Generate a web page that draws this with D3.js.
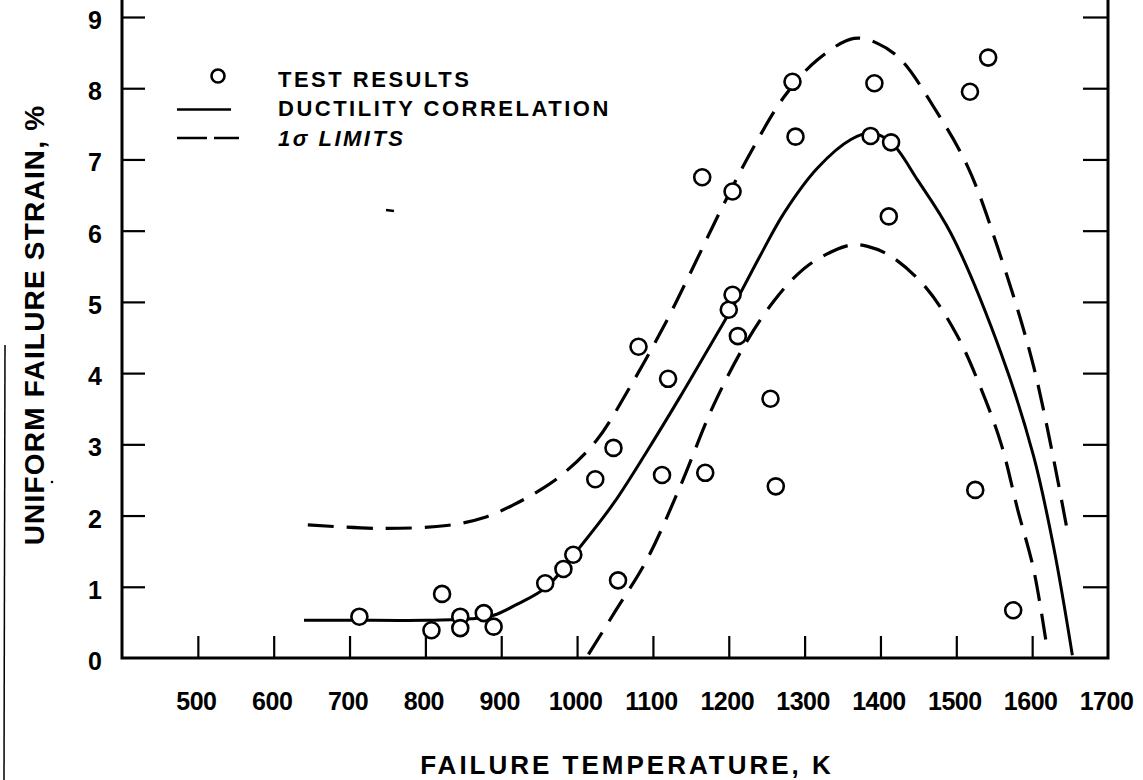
<!DOCTYPE html>
<html>
<head>
<meta charset="utf-8">
<script src="https://cdn.jsdelivr.net/npm/d3@7"></script>
<style>
  html, body { margin: 0; padding: 0; background: #fff; }
  svg { display: block; }
  text { font-family: "Liberation Sans", Arial, Helvetica, sans-serif; fill: #000; }
</style>
</head>
<body>
<svg id="chart" width="1143" height="780"></svg>
<script>
// ---- Data ----
const xTicks = [500, 600, 700, 800, 900, 1000, 1100, 1200, 1300, 1400, 1500, 1600, 1700];
const yTicks = [0, 1, 2, 3, 4, 5, 6, 7, 8, 9];

// Test results: failure temperature (K)
const testTemp = [713, 808, 822, 846, 846, 877, 890, 958, 982, 995, 1024, 1048, 1054,
                  1081, 1112, 1120, 1165, 1169, 1200, 1205, 1205, 1212, 1255, 1262,
                  1284, 1288, 1387, 1392, 1411, 1414, 1518, 1525, 1542, 1575];
// Test results: uniform failure strain (%)
const testStrain = [0.58, 0.39, 0.90, 0.58, 0.42, 0.63, 0.44, 1.05, 1.25, 1.45, 2.51, 2.95, 1.09,
                    4.37, 2.57, 3.92, 6.75, 2.60, 4.89, 5.10, 6.55, 4.52, 3.64, 2.41,
                    8.09, 7.32, 7.33, 8.07, 6.20, 7.24, 7.95, 2.36, 8.43, 0.67];

// Ductility correlation (solid)
const corrTemp   = [640, 700, 800, 860, 890, 920, 960, 1004, 1048, 1092, 1136, 1180, 1210, 1240, 1273, 1317, 1361, 1387, 1414, 1449, 1493, 1559, 1602, 1629, 1653];
const corrStrain = [0.53, 0.53, 0.53, 0.55, 0.60, 0.75, 1.00, 1.56, 2.17, 2.90, 3.67, 4.47, 5.02, 5.62, 6.25, 6.88, 7.28, 7.37, 7.24, 6.71, 5.96, 4.28, 2.83, 1.52, 0.04];

// 1-sigma limits, upper (dashed)
const upperTemp   = [645, 740, 828, 880, 916, 950, 982, 1026, 1070, 1114, 1150, 1190, 1229, 1273, 1317, 1365, 1396, 1427, 1470, 1515, 1554, 1602, 1647];
const upperStrain = [1.87, 1.82, 1.86, 1.98, 2.15, 2.35, 2.59, 3.06, 3.81, 4.65, 5.42, 6.30, 7.10, 7.88, 8.40, 8.70, 8.63, 8.40, 7.74, 6.90, 5.78, 4.09, 1.75];

// 1-sigma limits, lower (dashed)
const lowerTemp   = [1015, 1050, 1092, 1136, 1180, 1224, 1260, 1290, 1317, 1361, 1383, 1414, 1460, 1500, 1530, 1559, 1581, 1602, 1620];
const lowerStrain = [0.05, 0.65, 1.38, 2.41, 3.55, 4.45, 5.02, 5.38, 5.60, 5.80, 5.78, 5.64, 5.20, 4.55, 3.85, 3.01, 2.08, 1.24, 0.11];

const legendLabels = ["TEST RESULTS", "DUCTILITY CORRELATION", "1σ LIMITS"];
const xTitle = "FAILURE TEMPERATURE, K";
const yTitle = "UNIFORM FAILURE STRAIN, %";

// ---- Drawing ----
const svg = d3.select("#chart");
const left = 122, right = 1108, bottom = 658, yTop9 = 17;

const x = d3.scaleLinear().domain([400, 1700]).range([left, right]);
const y = d3.scaleLinear().domain([0, 9]).range([bottom, yTop9]);

const ink = "#000";

// scan artifact line on the far left edge, plus specks
svg.append("line").attr("x1", 5).attr("y1", 345).attr("x2", 4).attr("y2", 780)
  .attr("stroke", ink).attr("stroke-width", 1.5);
svg.append("line").attr("x1", 386).attr("x2", 394).attr("y1", 210).attr("y2", 211)
  .attr("stroke", ink).attr("stroke-width", 2.5);
svg.append("circle").attr("cx", 52).attr("cy", 482).attr("r", 1.3).attr("fill", ink);

// Frame: left axis, bottom axis, right axis (open at top)
svg.append("path")
  .attr("d", `M${left},0 L${left},${bottom} L${right},${bottom} L${right},0`)
  .attr("fill", "none").attr("stroke", ink).attr("stroke-width", 3);

// Left y-axis ticks
const yAxisL = d3.axisRight(y).tickValues(yTicks.filter(d => d > 0)).tickSize(23).tickFormat("");
const gyl = svg.append("g").attr("transform", `translate(${left},0)`).call(yAxisL);
gyl.select(".domain").remove();
gyl.selectAll(".tick line").attr("stroke", ink).attr("stroke-width", 2.2);

// Right y-axis ticks (pointing inward)
const yAxisR = d3.axisLeft(y).tickValues(yTicks.filter(d => d > 0)).tickSize(25).tickFormat("");
const gyr = svg.append("g").attr("transform", `translate(${right},0)`).call(yAxisR);
gyr.select(".domain").remove();
gyr.selectAll(".tick line").attr("stroke", ink).attr("stroke-width", 2.2);

// y tick labels
svg.append("g").selectAll("text").data(yTicks).join("text")
  .attr("x", 102).attr("y", d => y(d) + 3)
  .attr("text-anchor", "end").attr("dominant-baseline", "central")
  .attr("font-size", 25).attr("font-weight", "bold")
  .text(d => d);

// Bottom x-axis ticks (pointing up)
const xAxis = d3.axisTop(x).tickValues(xTicks.filter(d => d < 1700)).tickSize(22).tickFormat("");
const gx = svg.append("g").attr("transform", `translate(0,${bottom})`).call(xAxis);
gx.select(".domain").remove();
gx.selectAll(".tick line").attr("stroke", ink).attr("stroke-width", 2.2);

// x tick labels
svg.append("g").selectAll("text").data(xTicks).join("text")
  .attr("x", d => x(d) - 1.5).attr("y", 710)
  .attr("text-anchor", "middle")
  .attr("font-size", 25).attr("font-weight", "bold").attr("letter-spacing", -0.5)
  .text(d => d);

// Axis titles
svg.append("text").attr("x", 627).attr("y", 774)
  .attr("text-anchor", "middle").attr("font-size", 26).attr("font-weight", "bold")
  .attr("letter-spacing", 3)
  .text(xTitle);

svg.append("text")
  .attr("transform", `translate(44,325) rotate(-90)`)
  .attr("text-anchor", "middle").attr("font-size", 28).attr("font-weight", "bold")
  .attr("letter-spacing", 1.2)
  .text(yTitle);

// Curves
const line = d3.line().x(d => x(d[0])).y(d => y(d[1])).curve(d3.curveCatmullRom.alpha(0.5));

svg.append("path")
  .datum(d3.zip(upperTemp, upperStrain))
  .attr("d", line).attr("fill", "none").attr("stroke", ink)
  .attr("stroke-width", 3.2).attr("stroke-dasharray", "26,13");

svg.append("path")
  .datum(d3.zip(lowerTemp, lowerStrain))
  .attr("d", line).attr("fill", "none").attr("stroke", ink)
  .attr("stroke-width", 3.2).attr("stroke-dasharray", "26,13");

svg.append("path")
  .datum(d3.zip(corrTemp, corrStrain))
  .attr("d", line).attr("fill", "none").attr("stroke", ink)
  .attr("stroke-width", 3);

// Test result circles
svg.append("g").selectAll("circle").data(d3.zip(testTemp, testStrain)).join("circle")
  .attr("cx", d => x(d[0])).attr("cy", d => y(d[1])).attr("r", 8)
  .attr("fill", "#fff").attr("stroke", ink).attr("stroke-width", 2.6);

// Legend
const lg = svg.append("g");
lg.append("circle").attr("cx", 218).attr("cy", 76).attr("r", 6.5)
  .attr("fill", "#fff").attr("stroke", ink).attr("stroke-width", 2.6);
lg.append("line").attr("x1", 177).attr("x2", 231).attr("y1", 109.5).attr("y2", 109.5)
  .attr("stroke", ink).attr("stroke-width", 2.5);
lg.append("line").attr("x1", 177).attr("x2", 239).attr("y1", 138).attr("y2", 138)
  .attr("stroke", ink).attr("stroke-width", 2.5).attr("stroke-dasharray", "30,7");
lg.selectAll("text").data(legendLabels).join("text")
  .attr("x", 278).attr("y", (d, i) => 79 + i * 29.75)
  .attr("dominant-baseline", "central")
  .attr("font-size", 22).attr("font-weight", "bold").attr("letter-spacing", 2.5)
  .attr("font-style", (d, i) => i === 2 ? "italic" : "normal")
  .text(d => d);
</script>
</body>
</html>
